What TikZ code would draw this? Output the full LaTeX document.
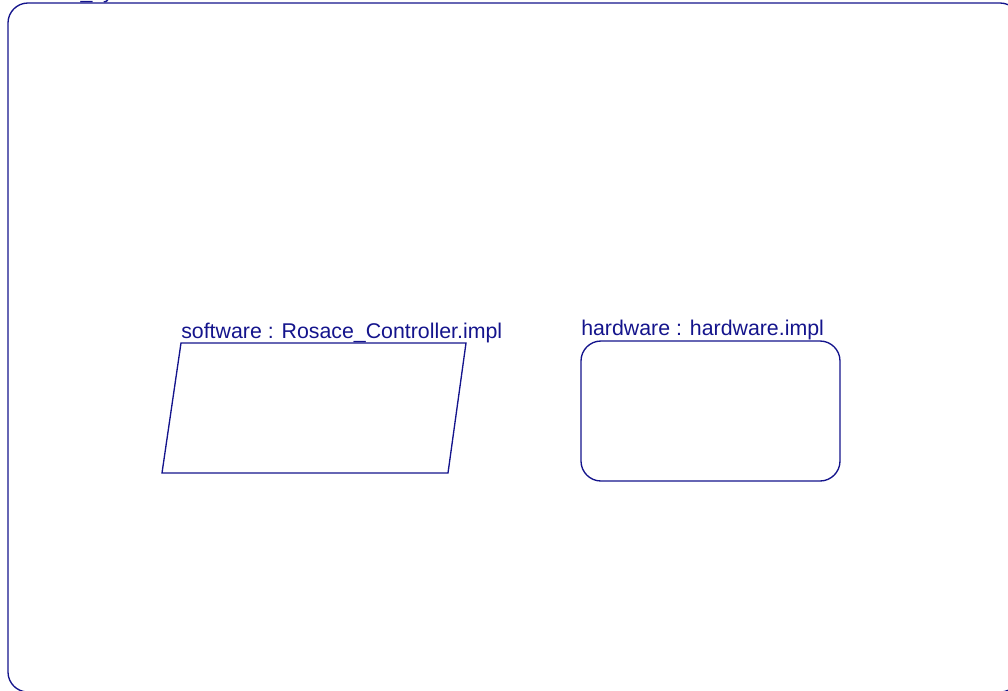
\documentclass[tikz,border=0pt]{standalone}
\usepackage{fontspec}
\setmainfont{Liberation Sans}
\definecolor{navy}{RGB}{20,20,140}
\begin{document}
\begin{tikzpicture}[x={(0.75pt,0)},y={(0,-0.75pt)},
  shapeline/.style={draw=navy,line width=1pt},
  lbl/.style={text=navy,font=\fontsize{16pt}{19pt}\selectfont,inner sep=0pt,anchor=base west}]
\useasboundingbox (0,0) rectangle (1008,690);
\clip (0,0) rectangle (1008,690);
% outer system box
\node[shapeline,rounded corners=15pt,minimum width=759pt,minimum height=516.75pt,inner sep=0pt] (sys) at (514,347.5) {};
\node[lbl] (syslbl) at (8,-2) {Rosace\_system};
% software parallelogram
\coordinate (swA) at (181,343);
\coordinate (swB) at (466,343);
\coordinate (swC) at (448,473);
\coordinate (swD) at (162,473);
\draw[shapeline,line join=miter] (swA) -- (swB) -- (swC) -- (swD) -- cycle;
\node[lbl] (swlbl) at (181,338) {software : Rosace\_Controller.impl};
% hardware box
\node[shapeline,rounded corners=15pt,minimum width=194.25pt,minimum height=105pt,inner sep=0pt] (hw) at (710.5,411) {};
\node[lbl] (hwlbl) at (581,335) {hardware : hardware.impl};
\end{tikzpicture}
\end{document}
